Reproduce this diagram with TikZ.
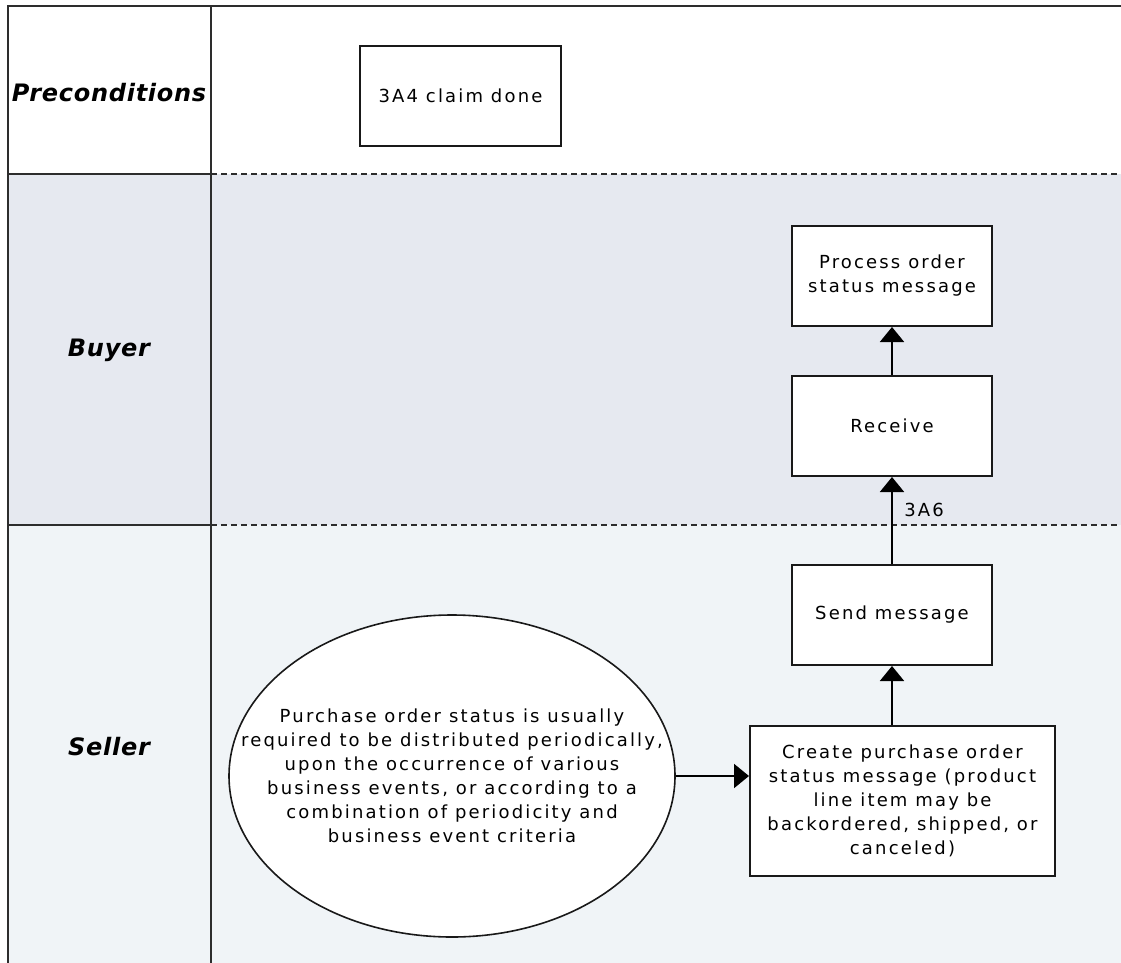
\documentclass[tikz,border=0pt]{standalone}
\usepackage{fontspec}
\usetikzlibrary{arrows.meta,shapes.geometric}
\newfontfamily\boxfont{DejaVu Sans}[LetterSpace=12]
\newfontfamily\lanefont{DejaVu Sans}[LetterSpace=3]
\definecolor{buyerbg}{RGB}{230,233,240}
\definecolor{sellerbg}{RGB}{240,244,247}
\definecolor{lanel}{RGB}{45,45,45}
\tikzset{
  laneline/.style={draw=lanel, line width=2pt},
  lanedash/.style={draw=lanel, line width=2pt, dash pattern=on 6pt off 4pt},
  lanelabel/.style={font=\lanefont\bfseries\itshape\fontsize{24}{28}\selectfont, text=black},
  stepbox/.style={draw=black!90, line width=2pt, fill=white, align=center, inner sep=0pt,
    font=\boxfont\fontsize{18}{24}\selectfont},
  flow/.style={draw=black, line width=2pt, -{Triangle[width=24pt,length=15pt]}},
}
\begin{document}
\begin{tikzpicture}[x=1pt,y=-1pt]
\useasboundingbox (0,0) rectangle (1121,963);
% lane backgrounds
\fill[buyerbg] (8,174) rectangle (1121,525);
\fill[sellerbg] (8,525) rectangle (1121,963);
% lane lines
\draw[laneline] (8,963) -- (8,6) -- (1121,6);
\draw[laneline] (211,6) -- (211,963);
\draw[laneline] (8,174) -- (211,174);
\draw[laneline] (8,525) -- (211,525);
\draw[lanedash] (211,174) -- (1121,174);
\draw[lanedash] (211,525) -- (1121,525);
% lane labels
\node[lanelabel] (lpre) at (109,93) {Preconditions};
\node[lanelabel] (lbuy) at (109,350) {Buyer};
\node[lanelabel] (lsel) at (109,747) {Seller};
% nodes
\node[stepbox, minimum width=201pt, minimum height=100pt] (claim) at (460.5,96) {3A4 claim done};
\node[stepbox, minimum width=200pt, minimum height=100pt] (process) at (892,276) {Process order\\status message};
\node[stepbox, minimum width=200pt, minimum height=100pt] (receive) at (892,426) {Receive};
\node[stepbox, minimum width=200pt, minimum height=100pt] (send) at (892,615) {Send message};
\node[stepbox, minimum width=305pt, minimum height=150pt] (create) at (902.5,801) {Create purchase order\\status message (product\\line item may be\\backordered, shipped, or\\canceled)};
\node[ellipse, draw=black!90, line width=1.6pt, fill=white, minimum width=446pt, minimum height=322pt, inner sep=0pt] (trigger) at (452,776) {};
\node[align=center, inner sep=0pt, font=\boxfont\fontsize{18}{24}\selectfont] (triggertext) at (trigger.center) {Purchase order status is usually\\required to be distributed periodically,\\upon the occurrence of various\\business events, or according to a\\combination of periodicity and\\business event criteria};
% connectors
\coordinate (tin) at (trigger.east -| create.west);
\draw[flow] (trigger.east) -- (tin);
\draw[flow] (send.south |- create.north) -- (send.south);
\draw[flow] (send.north) -- node[pos=0.62, anchor=west, xshift=8pt, font=\boxfont\fontsize{18}{24}\selectfont] (lbl) {3A6} (receive.south);
\draw[flow] (receive.north) -- (process.south);
\end{tikzpicture}
\end{document}
